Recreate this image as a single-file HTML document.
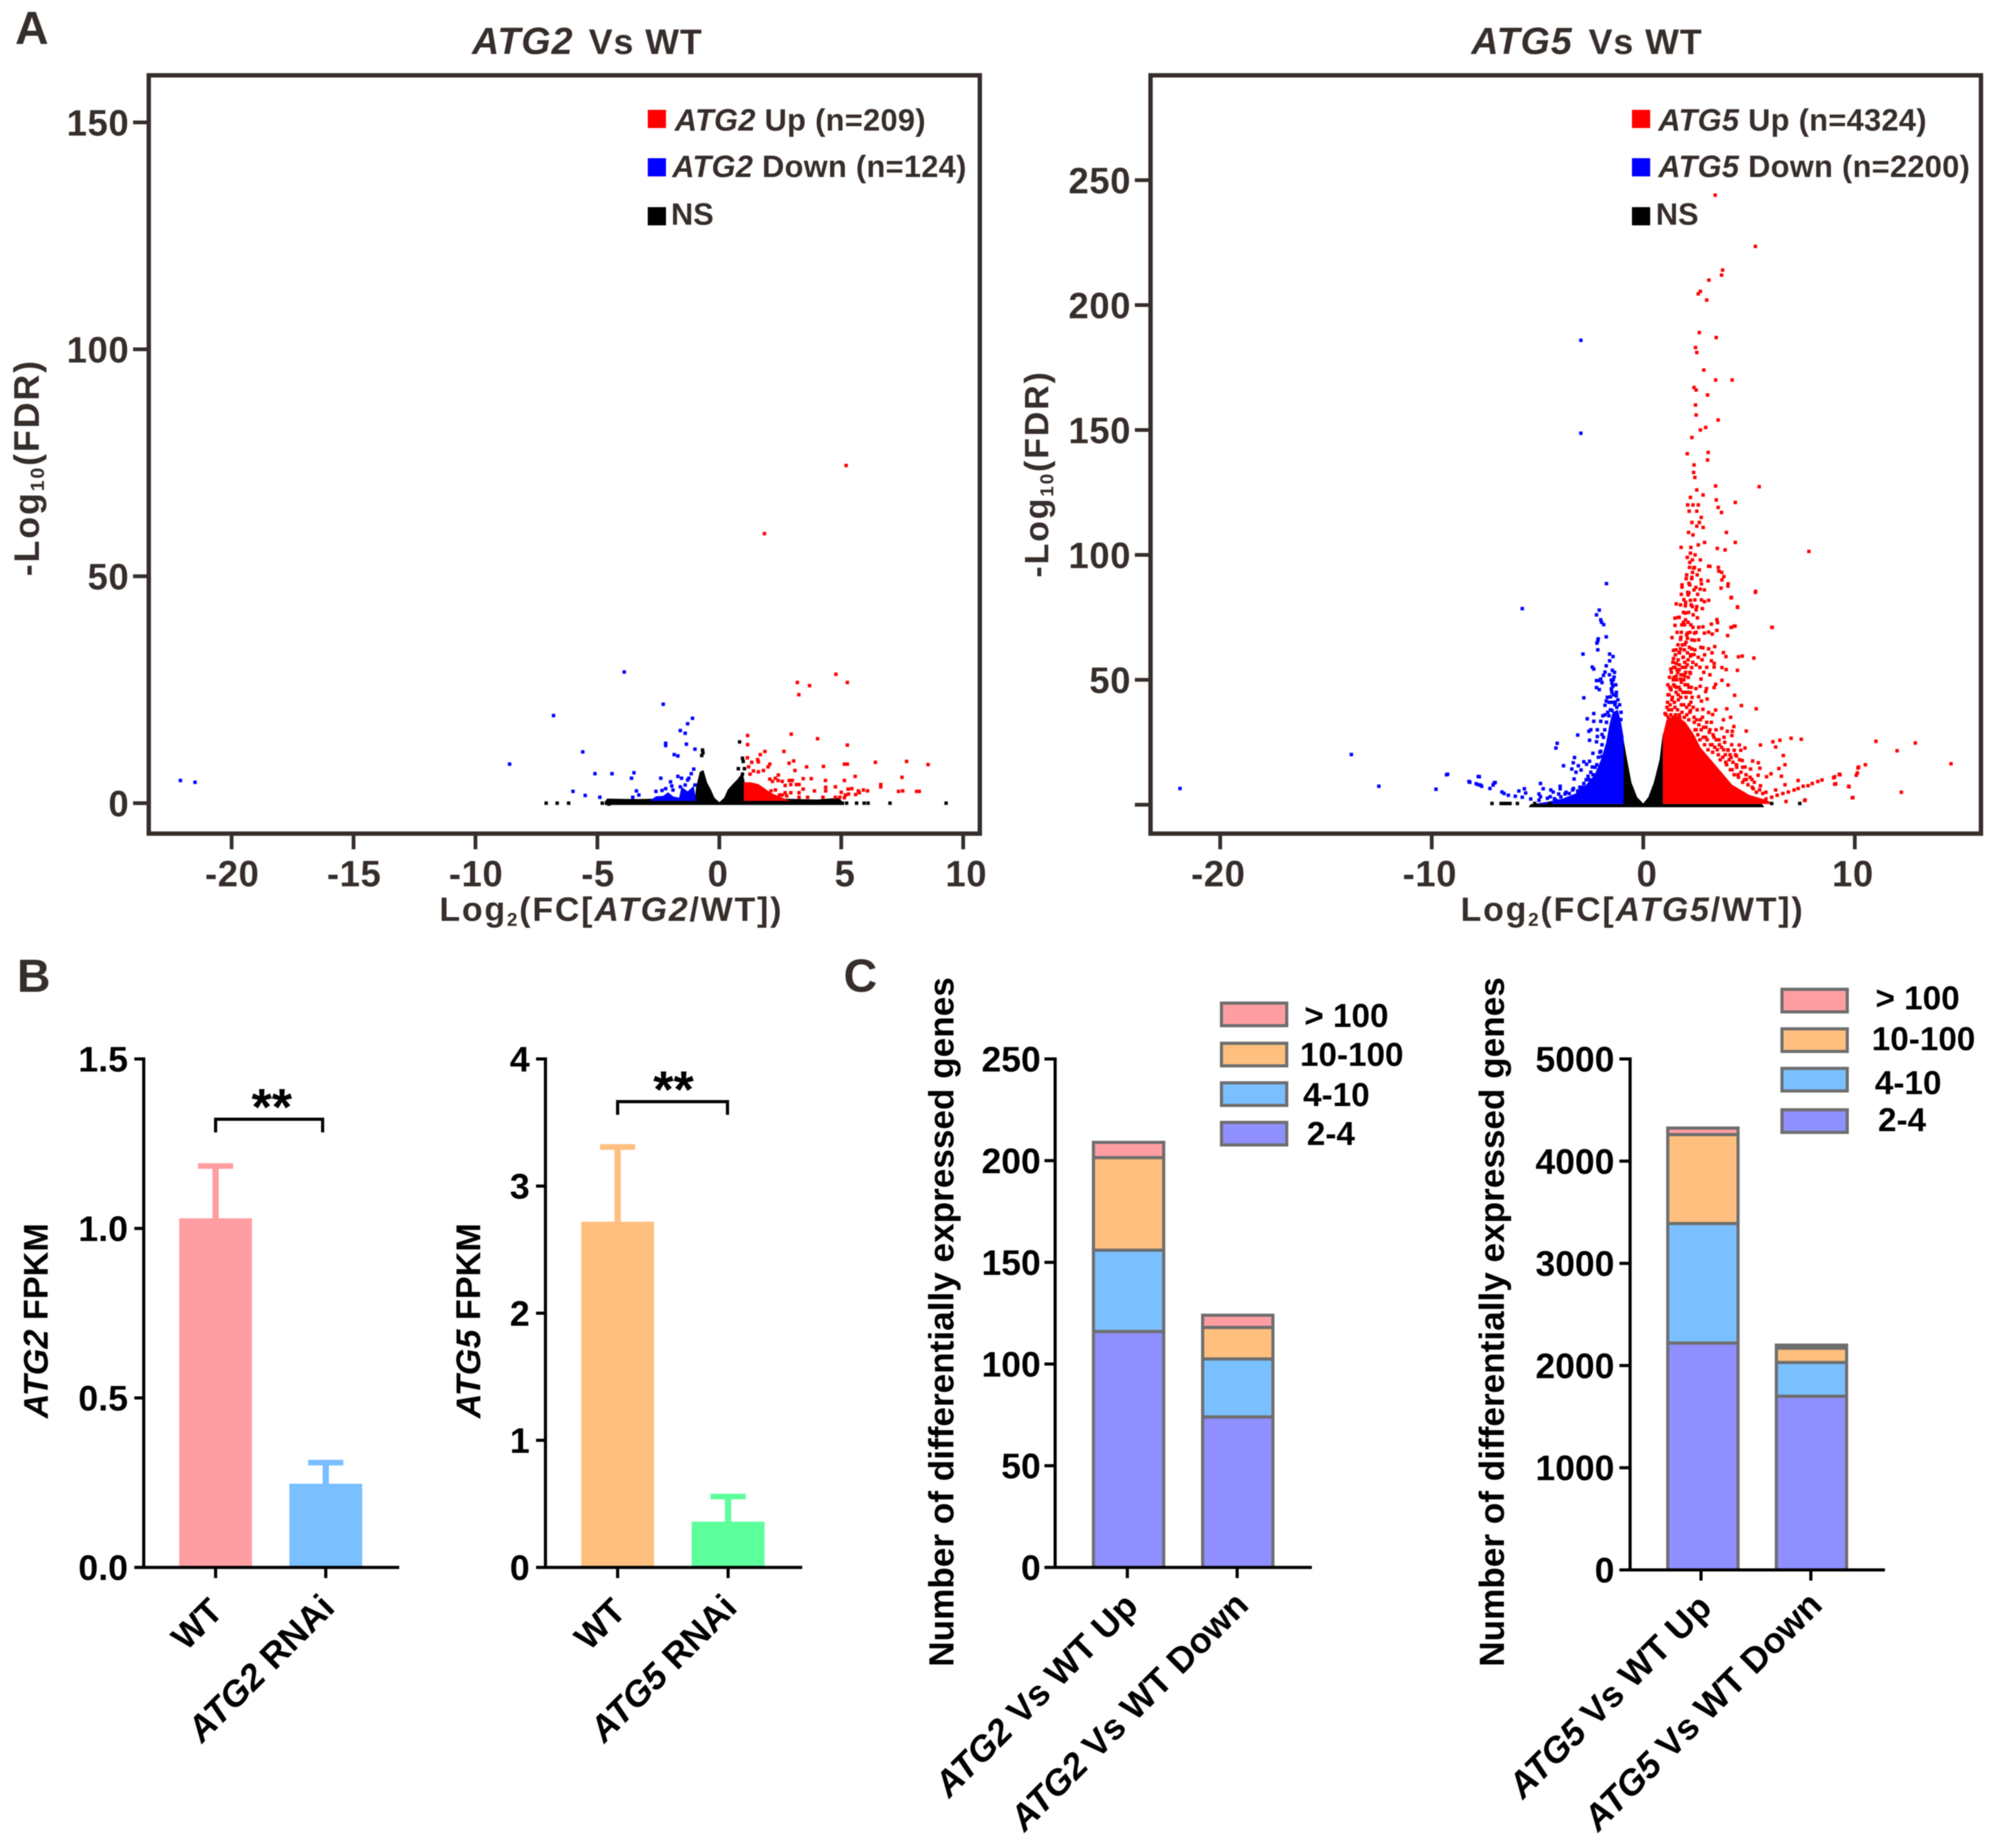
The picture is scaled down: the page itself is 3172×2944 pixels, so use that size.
<!DOCTYPE html>
<html lang="en">
<head>
<meta charset="utf-8">
<title>ATG2 and ATG5 differential expression</title>
<style>
html,body{margin:0;padding:0;background:#fff;}
svg{display:block;filter:blur(0.9px);}
text{font-family:"Liberation Sans",Arial,sans-serif;font-weight:bold;white-space:pre;}
.a{fill:#362e2b;}
.k{fill:#000;}
</style>
</head>
<body>
<svg id="fig" xmlns="http://www.w3.org/2000/svg" width="3172" height="2944" viewBox="0 0 3172 2944">
<rect x="0" y="0" width="3172" height="2944" fill="#fff"/>

<text class="a" x="24" y="70" font-size="74">A</text>
<text class="a" x="27" y="1580" font-size="74">B</text>
<text class="a" x="1344" y="1580" font-size="74">C</text>

<g id="a2">
<text class="a" x="752" y="86" font-size="57" letter-spacing="1.5"><tspan font-style="italic" font-size="60">ATG2</tspan><tspan dx="7"> Vs WT</tspan></text>
<text class="a" x="700" y="1467" font-size="54" letter-spacing="2.9">Log<tspan font-size="30" dy="8">2</tspan><tspan dy="-8">(FC[</tspan><tspan font-style="italic">ATG2</tspan>/WT])</text>
<text class="a" transform="translate(62 745) rotate(-90)" text-anchor="middle" font-size="57" letter-spacing="3">-Log<tspan font-size="31" dy="8">10</tspan><tspan dy="-8">(FDR)</tspan></text>
<g>
<rect x="1032" y="175" width="29" height="29" fill="#f00"/>
<text class="a" x="1075" y="208" font-size="49" letter-spacing="0.5"><tspan font-style="italic">ATG2</tspan> Up (n=209)</text>
<rect x="1032" y="252" width="29" height="29" fill="#00f"/>
<text class="a" x="1071" y="282" font-size="49" letter-spacing="0.5"><tspan font-style="italic">ATG2</tspan> Down (n=124)</text>
<rect x="1032" y="330" width="29" height="29" fill="#000"/>
<text class="a" x="1069" y="358" font-size="49">NS</text>
</g>
</g>

<g id="a5">
<text class="a" x="2344" y="86" font-size="57" letter-spacing="1.5"><tspan font-style="italic" font-size="60">ATG5</tspan><tspan dx="8"> Vs WT</tspan></text>
<text class="a" x="2327" y="1467" font-size="54" letter-spacing="2.9">Log<tspan font-size="30" dy="8">2</tspan><tspan dy="-8">(FC[</tspan><tspan font-style="italic">ATG5</tspan>/WT])</text>
<text class="a" transform="translate(1670 755) rotate(-90)" text-anchor="middle" font-size="54" letter-spacing="3">-Log<tspan font-size="30" dy="8">10</tspan><tspan dy="-8">(FDR)</tspan></text>
<g>
<rect x="2600" y="175" width="29" height="29" fill="#f00"/>
<text class="a" x="2642" y="208" font-size="49" letter-spacing="0.5"><tspan font-style="italic">ATG5</tspan> Up (n=4324)</text>
<rect x="2600" y="252" width="29" height="29" fill="#00f"/>
<text class="a" x="2642" y="282" font-size="49" letter-spacing="0.5"><tspan font-style="italic">ATG5</tspan> Down (n=2200)</text>
<rect x="2600" y="330" width="29" height="29" fill="#000"/>
<text class="a" x="2638" y="358" font-size="49">NS</text>
</g>
</g>

<g id="b2">
<text class="k" transform="translate(76 2104) rotate(-90)" text-anchor="middle" font-size="54.5"><tspan font-style="italic">ATG2</tspan> FPKM</text>
<path d="M343.5 1804V1783H514V1804" fill="none" stroke="#000" stroke-width="5"/>
<text class="k" x="433" y="1792" text-anchor="middle" font-size="83">**</text>
</g>
<g id="b5">
<text class="k" transform="translate(765 2104) rotate(-90)" text-anchor="middle" font-size="54.5"><tspan font-style="italic">ATG5</tspan> FPKM</text>
<path d="M984 1776V1755H1159V1776" fill="none" stroke="#000" stroke-width="5"/>
<text class="k" x="1073" y="1764" text-anchor="middle" font-size="83">**</text>
</g>

<g id="c2">
<text class="k" transform="translate(1519 2106) rotate(-90)" text-anchor="middle" font-size="56">Number of differentially expressed genes</text>
</g>
<g id="c5">
<text class="k" transform="translate(2396 2106) rotate(-90)" text-anchor="middle" font-size="56">Number of differentially expressed genes</text>
</g>

<script>
// ---------- Panel A: ATG2 volcano ----------
const a2XTicks = [-20,-15,-10,-5,0,5,10];
const a2YTicks = [0,50,100,150];
const a2YTickLabels = ['0','50','100','150'];
const a2NsBandX = [-4.7,-4.6,-3.5,-2.5,-1.5,-1.0,-0.95,-0.8,-0.65,-0.5,-0.35,-0.2,0,0.2,0.35,0.55,0.75,0.95,1.03,1.1,2.5,4,4.9,5.1];
const a2NsBandY = [0.3,1.0,0.9,1.0,1.0,1.0,3.6,6.9,7.3,4.5,3,1.2,0.2,1.2,3,4.2,5.3,6.8,5,1,1,0.8,1.2,0];
const a2DownBandX = [-2.85,-2.6,-2.3,-2.1,-1.9,-1.65,-1.55,-1.3,-1.05,-0.95];
const a2DownBandY = [0.5,1.5,1.6,2.4,1.5,1.2,3.6,2.6,3.8,0.5];
const a2UpBandX = [1,1,1.3,1.6,1.85,2.1,2.5,2.9];
const a2UpBandY = [0.5,4.6,4.6,4.2,3.3,2.3,1.4,0.5];
const a2NsX = [-7.1,-6.65,-6.18,-4.8,-4.48,-4.53,5.05,5.22,5.63,5.94,6.1,7.0,9.3,-0.69,-0.67,-0.72,0.83,0.95,0.98,0.78,1.03,0.95];
const a2NsY = [0,0,0,0,0,-0.2,0,0,0,0,0,0,0,11.7,11.1,10.5,13.5,9.9,9.2,7.6,7.6,6.4];
const a2DownX = [-22.1,-21.5,-8.6,-6.8,-3.9,-5.6,-5.1,-4.4,-6.0,-5.5,-4.9,-3.5,-3.6,-2.3,-1.1,-1.3,-1.6,-1.4,-2.2,-2.2,-1.35,-1.0,-1.85,-1.7,-2.4,-1.7,-1.55,-1.05,-1.15,-1.25,-3.4,-3.3,-3.55,-2.6,-2.35,-2.2,-2.0,-1.95,-1.9,-1.3,-1.4,-1.6,-1.0];
const a2DownY = [5.0,4.6,8.6,19.3,28.9,11.3,6.5,6.5,2.6,1.7,1.3,6.7,5.5,21.8,18.7,17.5,16,15.4,13.2,12.7,13,11.9,10.7,10.4,5.5,5.9,5.5,7.5,6.5,5.5,2.7,1.8,1.3,2.6,2.8,3.2,4.7,3.8,2.9,5.1,4,3.6,4];
const a2UpX = [5.2,1.85,4.78,5.25,3.2,3.7,3.26,1.16,1.16,2.95,4.03,5.25,2.65,1.87,1.68,1.15,1.33,1.57,1.6,2.07,2,1.81,1.6,1.4,1.2,1.26,2.86,3.05,3.58,4.27,5.13,5.25,6.4,7.68,8.56,3.1,2.42,5.57,7.49,5.13,4.35,3.44,3.77,6.62,6.62,4.76,4.36,4.36,3.9,3.44,5.43,5.28,5,5.3,5.17,5.13,5.59,5.74,5.91,6.08,5.7,7.35,7.52,8.09,8.2,2.07,2.18,2.3,2.41,2.58,2.87,2.99,2.93,2.7,3.16,3.27,2.12,2.3,2.47,2.7,2.93,3.27,3.62,4.25,4.76,4.94,3.27,2.76,2.58];
const a2UpY = [74.4,59.4,28.4,26.6,26.6,25.9,23.9,14.9,12.9,15.2,14.2,12.8,11.4,11.4,10.7,10,9,9.6,9.1,8.6,8,7.2,6.9,7.1,8,6.4,8.8,9.3,8,8.1,8.6,8.6,9,9.2,8.5,7.2,6.2,5.9,5.7,5,5,5.4,5.4,4.1,3.6,3.6,3.5,2.7,2.7,3.1,3.2,3.1,2.4,2,1.8,1.2,1.9,2.3,2.9,2.7,2.7,2.6,2.7,2.6,2.6,5.3,4.8,5.5,5,4.8,5,5,4.1,3.9,4.1,4.1,2.7,2.9,1.8,2.3,2.3,2.3,1.3,1.3,1.3,1.3,1.3,1.6,1.8];

// ---------- Panel A: ATG5 volcano ----------
const a5XTicks = [-20,-10,0,10];
const a5YTicks = [0,50,100,150,200,250];
const a5YTickLabels = ['','50','100','150','200','250'];
const a5NsBandX = [-5.4,-5.3,-0.95,-0.95,-0.82,-0.56,-0.29,0,0.24,0.5,0.77,0.93,0.93,5.6,5.7];
const a5NsBandY = [-0.6,0.3,0.3,27,20.6,8.9,3,0.5,3,8.9,18,29,0.3,0.3,-0.6];
const a5DownBandX = [-0.93,-0.93,-1.05,-1.2,-1.45,-1.6,-1.75,-2,-2.3,-2.7,-3.2,-3.8,-4.5,-5.2];
const a5DownBandY = [0.3,27,33,38,37,32,25,18,12,8,4.5,2.5,1.2,0.3];
const a5UpBandX = [0.93,0.93,1.1,1.5,2,2.4,2.7,3.2,3.5,4.2,5,5.7,6.2];
const a5UpBandY = [0.3,28,34,36,33,28,23,18,15,8,4,2.2,0.3];
const a5NsX = [-7.15,-6.72,-6.58,-6.45,-6.3,-5.95,-5.13,-4.42,6.07,7.4];
const a5NsY = [0.5,0.5,0.5,0.5,0.5,0.5,0.5,0.5,0.5,0.5];
const a5DownX = [-21.9,-13.8,-12.5,-9.8,-9.3,-8.2,-7.8,-7.9,-7.7,-7.1,-7,-5.72,-2.95,-2.95,-1.74,-2.08,-2.21,-2.01,-1.97,-1.87,-1.75,-2.13,-2.15,-2.19,-2.15,-2.85,-1.59,-1.43,-1.59,-1.75,-2.41,-2.34,-1.46,-1.81,-1.88,-1.38,-2.01,-2.21,-2.12,-1.95,-1.51,-1.48,-1.44,-2.21,-2.08,-1.51,-1.48,-1.28,-2.81,-1.55,-1.75,-1.81,-1.32,-1.25,-1.48,-2.34,-1.91,-2.65,-2.34,-2.01,-1.62,-1.06,-2.48,-2.57,-2.17,-3.1,-2.54,-2.17,-2.21,-1.95,-4.07,-4.13,-2.38,-2.01,-1.95,-3.25,-3.31,-2.81,-2.54,-2.68,-3.77,-3.07,-3.38,-2.94,-3.18,-2.41,-1.88,-2.61,-3.27,-1.71,-2.21,-2.81,-4.86,-4.73,-7.75,-8.24,-7.05,-7.8,-7.64,-7.25,-9.25,-6.68,-6.58,-5.88,-5.62,-5.56,-4.37,-4.26,-3.93,-3.93,-3.7,-4.93,-4.86,-4,-3.34,-2.94,-6.38,-6.05,-5.72,-5.32,-4.93,-4.53,-4.13,
-1.05,-1.12,-1.2,-1.27,-1.34,-1.4,-1.47,-1.55,-1.62,-1.68,-1.74,-1.82,-1.88,-1.95,-2.05,-2.12,-2.2,-2.28,-2.38,-2.48,-2.55,-2.7,-2.85,-3,-3.1,-3.3,-3.5,-3.65,-3.9,-4.2,-4.4,-1.3,-1.42,-1.36,-1.5,-1.7,-1.8,-1.6];
const a5DownY = [6.5,20.1,7.4,6.2,12,9,11.3,8.4,7.9,7.9,8.9,78.5,185.9,148.7,88.5,77.9,76,74,73,72.1,67.2,66.4,65.6,64.7,62,60.3,60.3,59.3,57.6,55.6,55.1,54.3,53.8,53.1,51.8,51.1,50.3,49.7,49.7,48.9,49.9,48.6,47.4,46.9,46.1,46.4,44.9,43.6,42.8,43.2,41.5,39.8,41.1,39,37.7,36.5,35.6,34.4,33.4,33.4,35.6,34.1,30,29.4,30,27.9,25.8,27.3,25.2,28.1,24.6,22.7,20.6,21.4,19.3,18.9,16.8,17.2,17.4,16.2,15.6,15.6,14.3,13.9,13,15.1,16.4,11.4,10.3,11.4,11.8,8.5,8.5,6.4,11.2,9.3,8.7,8,7.4,6.5,12.2,5.1,4.5,5.5,6.4,4.7,5.9,5.1,7.4,6.4,4.3,4.3,3.2,4.3,5.9,5.9,3.8,3.4,3,2.3,1.8,2.6,1.8,
37,40,42,45,40,44,41,38,41,37,33,30,27,24,21,19,16,15,12,13,10,10,7,7,5.5,6.5,4.5,5,3.2,2.4,3.2,48,50,53,46,43,36,52];
const a5UpX = [3.4,5.3,3.75,3.7,3.1,2.7,2.6,3,2.65,3.45,2.47,2.53,2.86,3.42,4.2,2.4,2.5,3.04,2.47,2.5,3.54,2.95,2.7,2.3,2.08,3.07,3.04,2.4,2.38,2.44,3.42,5.48,2.53,2.83,2.23,3.45,4.35,2.1,3.54,2.17,2.53,3.7,2.74,2.3,2.83,2.53,3.93,2.14,4.35,1.79,3.5,3.87,7.83,2.23,2.08,3.15,2.38,3.57,3.72,4,5.3,4.17,4.46,6.1,4.17,4.3,
2.19,2.65,3.09,3.55,2.33,3.71,3.81,2.03,2.29,2.73,3.06,2.16,1.83,2.75,4.01,5.31,2.49,2.69,2.89,3.68,1.83,1.8,2.16,2.57,4.15,1.92,2.23,2.89,3.09,1.56,1.76,1.99,2.32,2.53,4.45,2.79,1.99,1.5,1.7,2.56,1.9,2.12,3.48,3.51,3.22,1.5,2.62,2.82,4.15,4.34,6.08,3.48,1.8,2.09,2.42,2.89,3.09,3.26,3.99,1.36,1.76,2.09,2.42,1.96,2.82,1.76,2.29,3.38,1.43,1.7,2.09,2.4,3.09,3.25,3.79,3.91,4.5,4.68,5.23,1.43,1.89,2.23,3.22,3.35,1.56,1.96,1.43,2.29,3.35,3.72,3.92,4.45,1.3,1.7,2.23,1.56,1.96,2.73,3.72,4.01,3.42,3.35,2.69,2.99,2.95,4.32,2.49,2.23,2.62,3.02,2.75,1.17,1.5,1.76,1.3,4.64,5.34,3.95,3.42,3.09,3.28,4.13,3.79,1.03,2.82,2.23,4.28,4.21,4.87,3.97,3.71,4.19,5.54,6.13,6.46,6.99,7.47,11,6.26,4.54,4.81,4.61,4.01,4.3,6.62,4.41,4.15,5.17,5.44,4.68,6.7,5.51,6.41,4.81,5.07,6.04,6.53,5.83,5.43,4.87,5.14,7.32,6.7,5.54,5.2,6.26,6.75,7.63,9.88,9.71,9.05,10.07,10.15,10.5,9.27,9.05,8.45,8.25,7.99,7.79,7.56,7.32,7.13,6.86,6.6,6.33,6.07,5.8,
12.86,12,14.55,10.18,10.12,9.73,9.91,12.2,9.3,9,9.1,7.65,
1.2,1.35,1.5,1.65,1.8,1.95,2.05,2.25,2.4,2.55,2.7,2.85,3,3.15,3.3,3.45,3.6,3.8,1.25,1.45,1.6,1.75,1.9,2.1,2.2,1.15,1.3,1.7,2.15,2.5,2.95,3.25,3.55,3.9,4.2,4.5,4.7,4.4,4.1,3.85,1.4,1.65,2,1.55,1.85,2.05,2.25,2.3,1.6,1.95,
2.35,2.6,2.45,2.2,2.7,2.55,2.05,2.4,2.75,2.1,2.5,2.35,2.65,2.9,2.25,2.6,
1.08,1.12,1.18,1.22,1.27,1.31,1.34,1.38,1.41,1.44,1.47,1.52,1.55,1.58,1.62,1.66,1.69,1.72,1.77,1.8,1.83,1.87,1.91,1.94,1.98,2.02,2.06,2.1,2.13,2.17,2.2,2.27,2.31,2.36,2.41,1.16,1.24,1.33,1.42,1.5,1.57,1.63,1.7,1.78,1.85,1.92,2,2.08,2.16,
2.45,2.52,2.58,2.63,2.68,2.74,2.8,2.84,2.9,2.96,3.02,3.06,3.12,3.18,3.22,3.28,3.34,3.38,3.44,3.5,3.58,3.64,3.7,3.76,3.82,3.88,3.94,4,4.06,4.12,4.18,4.24,4.3,4.36,4.42,4.48,4.55,4.62,4.7,4.78,4.86,4.95,5.05,5.15,5.25,5.35,5.5,5.65,5.8,
1.52,1.64,1.72,1.78,1.88,1.94,2.02,2.12,2.18,2.26,2.34,2.44,2.5,2.6,2.68,2.78,2.86,2,2.14,2.26,2.36,2.44,2.2,2.35,2.5,2.62,2.72,2.9,3,3.15,1.66,1.82,1.9,2,2.12,2.2,2.3,2.42,2.32];
const a5UpY = [244,223.5,214,212,210,205.5,204.5,202,189,187,183,181,174,170,170,167,166,164,160,156,154,151,150,147,140.5,141,138,136,133,131,127.6,127.3,126,124,123,122,121,120,119,117.5,117.5,117,115,113,111,111.5,109,109,105,103,102.6,102,101.4,100.7,99,95.4,94.7,93.5,90,87.5,85,83,79,71,71,71.5,
95,94,95.5,95,93,93,91.3,90.5,90.5,90,89.6,88.6,88,88.4,88.4,85.4,87,86.3,86,86.7,87.1,84.2,84.8,84.2,82.8,82.1,81.8,81.3,81.8,80.4,80,79.6,79.3,79.3,79.2,78.5,76.7,74.7,75,74.8,73,73,74.1,72.9,72.3,71.8,71,71.2,71,71.5,71,69.8,69,68.7,68.7,68.7,69.1,68.3,67.7,66.9,66.2,66.6,65.8,64.1,62.8,62.4,62.4,63.3,61.8,60.8,60.8,60.1,62.4,60.8,60.9,59.3,59.2,59.5,58.7,58.5,59.1,59.5,57.6,56.6,56.6,57,54.9,54.9,55.1,54.9,54.1,53.8,54.3,54.1,52.6,51.5,51.5,50.3,49.8,47.9,48.2,46.9,47.4,46.5,45.3,43.8,46.5,44.9,43.2,42.3,41.5,44,47.4,50.3,46.5,39.7,38.4,38.4,37.9,36.9,36.1,35,34,36.5,38.2,37.7,31.3,29.4,29.5,29.4,30.6,27.7,23.9,25.2,25.8,26.6,26.2,25.4,23.1,23.9,22.7,21.8,21.8,21.8,19.7,19.5,18.9,17.5,16.8,17.7,16,14.6,14.5,15.1,14.3,12.4,11.4,11.2,11.8,10.1,10.1,9.7,8,7.6,6.4,5.9,1.3,1.7,2.8,7.4,8.2,11.8,14.7,16,12.2,11.2,9.9,9.3,8.5,7.6,7.4,6.5,5.9,5.1,4.5,3.8,3,2.3,
24.7,21.6,16.4,15.1,12.7,7.2,2.9,5,12,10.8,8.4,1.9,
38,42,39,44,40,45,39,41,35,38,34,31,33,30,28,26,24,22,47,51,54,46,52,48,53,41,36,36,34,30,27,24,20,17,14,11,9,16,20,25,57,58,55,62,64,68,72,66,69,72,
108,104,100,97,98,92,92,86,82,85,78,120,113,105,103,120,
36,39,35,44,40,46,38,43,35,48,41,36,45,50,38,42,47,35,43,49,37,45,40,35,48,43,36,45,51,40,37,47,43,39,33,48,51,53,50,55,47,53,56,52,55,50,53,56,47,
30,34,28,32,26,30,35,27,24,31,26,22,29,24,33,21,27,23,30,22,26,18,23,19,27,20,16,22,18,14,24,17,12,20,15,12,18,13,15,10,12,8,11,7,9,5,6,4.5,5,
60,64,61,67,59,62,65,58,63,60,57,62,56,59,55,58,53,74,77,80,76,82,69,71,69,66,63,60,55,52,75,72,77,81,84,88,91,95,98];

// ---------- Panel B: FPKM bars ----------
const b2Categories = ['WT','ATG2 RNAi'];
const b2Values = [1.03,0.247];
const b2ErrorTops = [1.185,0.31];
const b2YTicks = [0,0.5,1,1.5];
const b2YTickLabels = ['0.0','0.5','1.0','1.5'];
const b2Colors = ['#ff9ea2','#7abfff'];
const b5Categories = ['WT','ATG5 RNAi'];
const b5Values = [2.72,0.36];
const b5ErrorTops = [3.31,0.56];
const b5YTicks = [0,1,2,3,4];
const b5YTickLabels = ['0','1','2','3','4'];
const b5Colors = ['#ffbf7f','#5cff9b'];

// ---------- Panel C: stacked bars ----------
const stackSeries = ['2-4','4-10','10-100','> 100'];
const stackColors = ['#8f8fff','#7abfff','#ffbf7f','#ff9ea2'];
const c2Categories = ['ATG2 Vs WT Up','ATG2 Vs WT Down'];
const c2Range2to4 = [116,74];
const c2Range4to10 = [40,28.5];
const c2Range10to100 = [45.5,15.5];
const c2RangeOver100 = [7.5,6];
const c2YTicks = [0,50,100,150,200,250];
const c2YTickLabels = ['0','50','100','150','200','250'];
const c5Categories = ['ATG5 Vs WT Up','ATG5 Vs WT Down'];
const c5Range2to4 = [2220,1700];
const c5Range4to10 = [1170,330];
const c5Range10to100 = [870,140];
const c5RangeOver100 = [64,30];
const c5YTicks = [0,1000,2000,3000,4000,5000];
const c5YTickLabels = ['0','1000','2000','3000','4000','5000'];

const NS = 'http://www.w3.org/2000/svg';
function mk(tag, parent, attrs, txt){
  const el = document.createElementNS(NS, tag);
  for (const k in attrs) el.setAttribute(k, attrs[k]);
  if (txt !== undefined) el.textContent = txt;
  parent.appendChild(el);
  return el;
}
function linear(origin, perUnit){ return v => origin + v * perUnit; }

function band(parent, xs, ys, sx, sy, base, color, name){
  let d = 'M' + sx(xs[0]) + ' ' + sy(base);
  xs.forEach((x, i) => { d += 'L' + sx(x) + ' ' + sy(ys[i]); });
  d += 'L' + sx(xs[xs.length - 1]) + ' ' + sy(base) + 'Z';
  const el = mk('path', parent, {d: d, fill: color});
  
  
}
function scatter(parent, xs, ys, sx, sy, color, name){
  const g = mk('g', parent, {fill: color});
  
  
  xs.forEach((x, i) => {
    const p = mk('rect', g, {x: sx(x) - 2.75, y: sy(ys[i]) - 2.75, width: 5.5, height: 5.5});
    
    
  });
}
function volcanoAxes(parent, frame, xTicks, yTicks, yLabels, sx, sy, nudge){
  const box = mk('rect', parent, {x: frame[0], y: frame[1], width: frame[2] - frame[0], height: frame[3] - frame[1], fill: 'none', stroke: '#362e2b', 'stroke-width': 7});
  
  
  xTicks.forEach(t => {
    const m = mk('line', parent, {x1: sx(t), x2: sx(t), y1: frame[3], y2: frame[3] + 25, stroke: '#362e2b', 'stroke-width': 6});
    
    
    const l = mk('text', parent, {x: sx(t) + nudge(t), y: 1412, 'text-anchor': 'middle', 'font-size': 58, 'letter-spacing': 1, fill: '#362e2b'}, String(t));
    
    
  });
  yTicks.forEach((t, i) => {
    const m = mk('line', parent, {x1: frame[0] - 25, x2: frame[0], y1: sy(t), y2: sy(t), stroke: '#362e2b', 'stroke-width': 6});
    
    
    const l = mk('text', parent, {x: frame[0] - 31, y: sy(t) + 21, 'text-anchor': 'end', 'font-size': 58, 'letter-spacing': 1, fill: '#362e2b'}, yLabels[i]);
    
    
  });
}
function plainAxes(parent, axisX, axisEnd, yTicks, yLabels, sy, xCenters, tickLen, labelX, fs){
  const ya = mk('line', parent, {x1: axisX, x2: axisX, y1: sy(yTicks[yTicks.length - 1]) - 2.5, y2: sy(0) + 2.5, stroke: '#000', 'stroke-width': 5});
  
  
  const xa = mk('line', parent, {x1: axisX - tickLen, x2: axisEnd, y1: sy(0), y2: sy(0), stroke: '#000', 'stroke-width': 5});
  
  
  yTicks.forEach((t, i) => {
    const m = mk('line', parent, {x1: axisX - tickLen, x2: axisX, y1: sy(t), y2: sy(t), stroke: '#000', 'stroke-width': 5});
    
    
    const l = mk('text', parent, {x: labelX, y: sy(t) + 20, 'text-anchor': 'end', 'font-size': fs, fill: '#000'}, yLabels[i]);
    
    
  });
  xCenters.forEach(cx => {
    const m = mk('line', parent, {x1: cx, x2: cx, y1: sy(0), y2: sy(0) + 17, stroke: '#000', 'stroke-width': 5});
    
    
  });
}
function rotatedLabel(parent, str, endX, endY, fs){
  const t = mk('text', parent, {transform: 'translate(' + endX + ' ' + endY + ') rotate(-45)', 'text-anchor': 'end', 'font-size': fs, fill: '#000'});
  
  
  const m = str.match(/^(ATG\d)(.*)$/);
  if (m) {
    const a = mk('tspan', t, {'font-style': 'italic'}, m[1]);
    
    
    const b = mk('tspan', t, {}, m[2]);
    
    
  } else {
    t.textContent = str;
  }
}
function barPanel(parent, cats, vals, tops, colors, sy, x0, step, barW, capW){
  vals.forEach((v, i) => {
    const cx = x0 + i * step;
    const stem = mk('rect', parent, {x: cx - 5, y: sy(tops[i]), width: 10, height: sy(v) - sy(tops[i]) + 2, fill: colors[i]});
    
    
    const cap = mk('rect', parent, {x: cx - capW / 2, y: sy(tops[i]) - 4, width: capW, height: 9, fill: colors[i]});
    
    
    const b = mk('rect', parent, {x: cx - barW / 2, y: sy(v), width: barW, height: sy(0) - sy(v), fill: colors[i]});
    
    
  });
}
function stackPanel(parent, seriesList, colors, sy, x0, step, barW){
  const n = seriesList[0].length;
  for (let i = 0; i < n; i++) {
    let acc = 0;
    const cx = x0 + i * step;
    seriesList.forEach((s, j) => {
      const top = sy(acc + s[i]);
      const r = mk('rect', parent, {x: cx - barW / 2, y: top, width: barW, height: sy(acc) - top, fill: colors[j], stroke: '#6e6e6e', 'stroke-width': 5});
      
      
      acc += s[i];
    });
  }
}
function stackLegend(parent, names, colors, swX, swW, swYs, swH, textXs, textYs){
  names.forEach((nm, i) => {
    const r = mk('rect', parent, {x: swX, y: swYs[i], width: swW, height: swH, fill: colors[i], stroke: '#6e6e6e', 'stroke-width': 5});
    
    
    const t = mk('text', parent, {x: textXs[i], y: textYs[i], 'font-size': 53, fill: '#000'}, nm);
    
    
  });
}

// ---- draw volcano ATG2
const gA2 = document.getElementById('a2');
const a2Sx = linear(1146, 38.85), a2Sy = linear(1279.5, -7.23);
band(gA2, a2NsBandX, a2NsBandY, a2Sx, a2Sy, -0.4, '#000', 'ns-density');
band(gA2, a2DownBandX, a2DownBandY, a2Sx, a2Sy, 0.5, '#00f', 'down-density');
band(gA2, a2UpBandX, a2UpBandY, a2Sx, a2Sy, 0.5, '#f00', 'up-density');
scatter(gA2, a2NsX, a2NsY, a2Sx, a2Sy, '#000', 'ns-points');
scatter(gA2, a2DownX, a2DownY, a2Sx, a2Sy, '#00f', 'down-points');
scatter(gA2, a2UpX, a2UpY, a2Sx, a2Sy, '#f00', 'up-points');
volcanoAxes(gA2, [237, 120, 1561, 1328], a2XTicks, a2YTicks, a2YTickLabels, a2Sx, a2Sy, t => t < 0 ? 1 : (t === 0 ? -2 : t === 5 ? 6 : 5));

// ---- draw volcano ATG5
const gA5 = document.getElementById('a5');
const a5Sx = linear(2618, 33.7), a5Sy = linear(1282, -3.98);
band(gA5, a5NsBandX, a5NsBandY, a5Sx, a5Sy, -1, '#000', 'ns-density');
band(gA5, a5DownBandX, a5DownBandY, a5Sx, a5Sy, 0.3, '#00f', 'down-density');
band(gA5, a5UpBandX, a5UpBandY, a5Sx, a5Sy, 0.3, '#f00', 'up-density');
scatter(gA5, a5NsX, a5NsY, a5Sx, a5Sy, '#000', 'ns-points');
scatter(gA5, a5DownX, a5DownY, a5Sx, a5Sy, '#00f', 'down-points');
scatter(gA5, a5UpX, a5UpY, a5Sx, a5Sy, '#f00', 'up-points');
volcanoAxes(gA5, [1833, 120, 3156, 1328], a5XTicks, a5YTicks, a5YTickLabels, a5Sx, a5Sy, t => t === 0 ? 6 : -3);

// ---- draw FPKM bars
const gB2 = document.getElementById('b2');
const b2Sy = linear(2497, -540);
barPanel(gB2, b2Categories, b2Values, b2ErrorTops, b2Colors, b2Sy, 343.5, 175.5, 116, 56);
plainAxes(gB2, 229, 636, b2YTicks, b2YTickLabels, b2Sy, [343.5, 519], 15, 204, 57);
rotatedLabel(gB2, b2Categories[0], 358, 2570, 56);
rotatedLabel(gB2, b2Categories[1], 536, 2564, 57);

const gB5 = document.getElementById('b5');
const b5Sy = linear(2497, -202.5);
barPanel(gB5, b5Categories, b5Values, b5ErrorTops, b5Colors, b5Sy, 984, 176, 116, 56);
plainAxes(gB5, 869, 1278, b5YTicks, b5YTickLabels, b5Sy, [984, 1160], 15, 844, 57);
rotatedLabel(gB5, b5Categories[0], 1000, 2570, 56);
rotatedLabel(gB5, b5Categories[1], 1177, 2564, 57);

// ---- draw stacked bars
const gC2 = document.getElementById('c2');
const c2Sy = linear(2497, -3.24);
stackPanel(gC2, [c2Range2to4, c2Range4to10, c2Range10to100, c2RangeOver100], stackColors, c2Sy, 1798, 174, 112);
plainAxes(gC2, 1681, 2090, c2YTicks, c2YTickLabels, c2Sy, [1796, 1971], 17, 1658, 56.5);
rotatedLabel(gC2, c2Categories[0], 1816, 2562, 57);
rotatedLabel(gC2, c2Categories[1], 1992, 2560, 57);
stackLegend(gC2, stackSeries.slice().reverse(), stackColors.slice().reverse(), 1946, 104, [1598, 1662, 1725, 1788], 36, [2078, 2071, 2076, 2082], [1636, 1698, 1762, 1824]);

const gC5 = document.getElementById('c5');
const c5Sy = linear(2501, -0.1628);
stackPanel(gC5, [c5Range2to4, c5Range4to10, c5Range10to100, c5RangeOver100], stackColors, c5Sy, 2713, 173, 112);
plainAxes(gC5, 2597, 3003, c5YTicks, c5YTickLabels, c5Sy, [2710, 2885], 17, 2572, 56.5);
rotatedLabel(gC5, c5Categories[0], 2730, 2564, 57);
rotatedLabel(gC5, c5Categories[1], 2906, 2560, 57);
stackLegend(gC5, stackSeries.slice().reverse(), stackColors.slice().reverse(), 2839, 104, [1576, 1639, 1702, 1768], 36, [2988, 2982, 2987, 2992], [1608, 1673, 1743, 1802]);
</script>
</svg>
</body>
</html>
